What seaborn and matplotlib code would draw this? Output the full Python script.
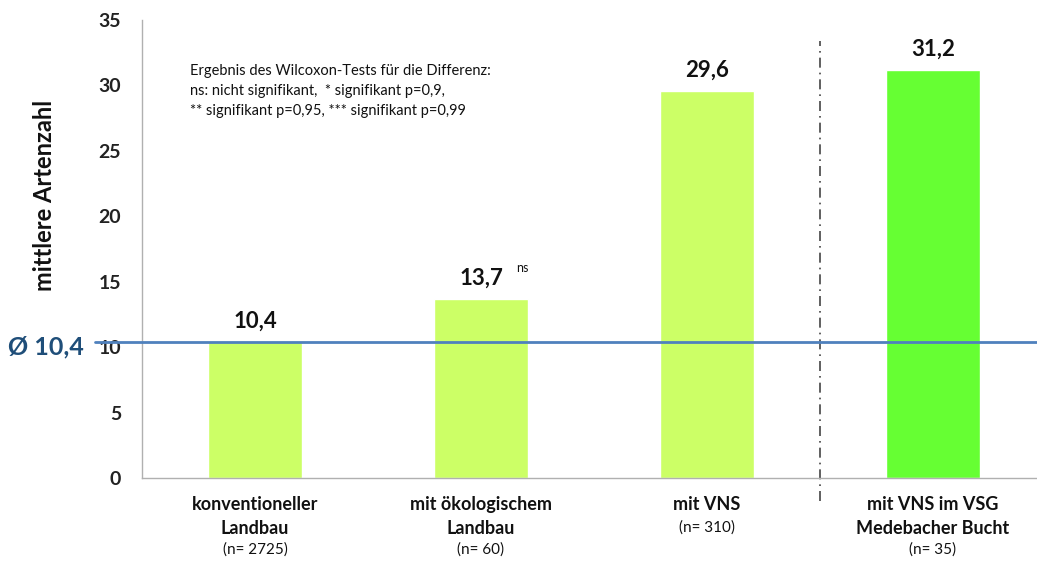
import matplotlib
matplotlib.use("Agg")
import matplotlib.pyplot as plt
import matplotlib.transforms as mtransforms
import seaborn as sns
import numpy as np

categories = ["konventioneller\nLandbau", "mit ökologischem\nLandbau", "mit VNS", "mit VNS im VSG\nMedebacher Bucht"]
n_labels = ["(n= 2725)", "(n= 60)", "(n= 310)", "(n= 35)"]
values = [10.4, 13.7, 29.6, 31.2]
value_labels = ["10,4", "13,7", "29,6", "31,2"]
sig_labels = ["", "ns", "", ""]
bar_colors = ["#CCFF66", "#CCFF66", "#CCFF66", "#66FF33"]
mean_value = 10.4
mean_label = "Ø 10,4"
yticks = [0, 5, 10, 15, 20, 25, 30, 35]
note = ("Ergebnis des Wilcoxon-Tests für die Differenz:\n"
        "ns: nicht signifikant,  * signifikant p=0,9,\n"
        "** signifikant p=0,95, *** signifikant p=0,99")

sns.set_theme(style="white")
plt.rcParams['font.family'] = ['Lato', 'DejaVu Sans']

fig = plt.figure(figsize=(10.37, 5.69), dpi=100)
ax = fig.add_axes([142/1037, 1-478/569, 1-142/1037, (478-20)/569])

sns.barplot(x=list(range(len(categories))), y=values, hue=list(range(len(categories))),
            palette=bar_colors, legend=False, width=0.42, saturation=1, ax=ax, native_scale=True)

ax.set_ylim(0, 35)
ax.set_xlim(-0.5, 3.46)
ax.set_yticks(yticks)
ax.set_yticklabels([str(t) for t in yticks], fontsize=14, fontweight="bold", color="#222222")
ax.set_xticks([0.5, 1.5])
ax.set_xticklabels([])
ax.tick_params(axis="x", direction="out", length=5, color="#B0B0B0", width=1)
ax.tick_params(axis="y", direction="out", length=5, color="#B0B0B0", width=1, pad=10)
for s in ["top", "right"]:
    ax.spines[s].set_visible(False)
for s in ["left", "bottom"]:
    ax.spines[s].set_color("#B0B0B0")
    ax.spines[s].set_linewidth(1)

ax.set_ylabel("mittlere Artenzahl", fontsize=17, fontweight="bold", color="#111111",
              ha="center", va="center")
ax.yaxis.set_label_coords((45 - 142) / 895, (478 - 195) / 458)

# value labels
for i, (v, lab) in enumerate(zip(values, value_labels)):
    ax.annotate(lab, (i, v), xytext=(0, 7), textcoords="offset points", ha="center", va="bottom",
                fontsize=16, fontweight="bold", color="#111111")
    if sig_labels[i]:
        ax.annotate(sig_labels[i], (i, v), xytext=(25, 18), textcoords="offset points", ha="left",
                    va="bottom", fontsize=9, color="#111111")

# category labels
xt = ax.get_xaxis_transform()
for i, (c, n) in enumerate(zip(categories, n_labels)):
    ax.text(i, -0.04, c, transform=xt, ha="center", va="top", fontsize=13,
            fontweight="bold", linespacing=1.5, color="#111111")
    nlines = c.count("\n") + 1
    ax.text(i, -0.04 - 0.049 * nlines - 0.003, n, transform=xt, ha="center", va="top",
            fontsize=11, color="#111111")

# mean line extending left of axis
line_tr = mtransforms.blended_transform_factory(fig.transFigure, ax.transData)
ax.plot([95/1037, 1.0], [mean_value, mean_value], transform=line_tr, color="#4F81BD",
        lw=2, clip_on=False, zorder=5)
ax.text(8/1037, mean_value - 0.4, mean_label, transform=line_tr, ha="left", va="center",
        fontsize=18, fontweight="bold", color="#1F4E79")

# dash-dot separator
ax.plot([2.5, 2.5], [-0.05, 0.955], transform=xt, color="#444444", lw=1.2,
        linestyle=(0, (6, 3, 1, 3)), clip_on=False)

ax.text(190/1037, 1 - 64/569, note, transform=fig.transFigure, ha="left", va="top",
        fontsize=10.5, linespacing=1.55, color="#111111")

fig.savefig("out.png", dpi=100)
